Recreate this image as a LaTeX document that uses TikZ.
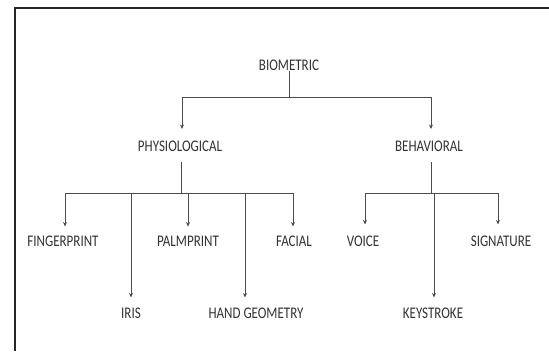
\documentclass[tikz,border=0pt]{standalone}
\usepackage{fontspec}
\setmainfont{Carlito}
\usetikzlibrary{arrows.meta}
\begin{document}
\begin{tikzpicture}[x=1pt,y=-1pt,
  lbl/.style={inner sep=0pt, text=black!80, font=\fontsize{13}{13}\selectfont},
  conn/.style={draw=black!70, line width=0.9pt},
  arr/.style={conn, -{Stealth[length=4.5pt,width=4pt]}}]
\useasboundingbox (0,0) rectangle (549,351);
\fill[white] (0,0) rectangle (549,351);
\draw[black!85, line width=2.2pt] (15,351) -- (15,8) -- (549,8);
% nodes
\node[lbl] (bio)   at (289,65)    {\scalebox{1}[1.25]{BIOMETRIC}};
\node[lbl] (phys)  at (180,146.5) {\scalebox{1}[1.25]{PHYSIOLOGICAL}};
\node[lbl] (behav) at (429,146.5) {\scalebox{1}[1.25]{BEHAVIORAL}};
\node[lbl] (fing)  at (63,241)    {\scalebox{1}[1.25]{FINGERPRINT}};
\node[lbl] (palm)  at (188,241)   {\scalebox{1}[1.25]{PALMPRINT}};
\node[lbl] (facial) at (294,241)  {\scalebox{1}[1.25]{FACIAL}};
\node[lbl] (iris)  at (131,313)   {\scalebox{1}[1.25]{IRIS}};
\node[lbl] (hand)  at (256,313)   {\scalebox{1}[1.25]{HAND GEOMETRY}};
\node[lbl] (voice) at (363,241)   {\scalebox{1}[1.25]{VOICE}};
\node[lbl] (key)   at (433,313)   {\scalebox{1}[1.25]{KEYSTROKE}};
\node[lbl] (sig)   at (501,241)   {\scalebox{1}[1.25]{SIGNATURE}};
% junctions
\coordinate (j0) at (289,97);
\coordinate (jp) at (181,193);
\coordinate (jb) at (431,193);
% level 1
\draw[conn] (bio.south) -- (j0);
\draw[arr, shorten >=12pt] (j0) -| ([xshift=2pt]phys.north);
\draw[arr, shorten >=12pt] (j0) -| ([xshift=2pt]behav.north);
% physiological
\draw[conn, shorten <=10pt] ([xshift=1pt]phys.south) -- (jp);
\draw[arr, shorten >=9pt] (jp) -| ([xshift=2pt]fing.north);
\draw[arr, shorten >=10pt] (jp) -| (iris.north);
\draw[arr, shorten >=9pt] (jp) -| (palm.north);
\draw[arr, shorten >=10pt] (jp) -| ([xshift=-11pt]hand.north);
\draw[arr, shorten >=9pt] (jp) -| ([xshift=-1pt]facial.north);
% behavioral
\draw[conn, shorten <=10pt] ([xshift=2pt]behav.south) -- (jb);
\draw[arr, shorten >=11pt] (jb) -| ([xshift=2pt]voice.north);
\draw[arr, shorten >=10pt] (jb) -| ([xshift=1pt]key.north);
\draw[arr, shorten >=11pt] (jb) -| ([xshift=-3pt]sig.north);
\end{tikzpicture}
\end{document}
